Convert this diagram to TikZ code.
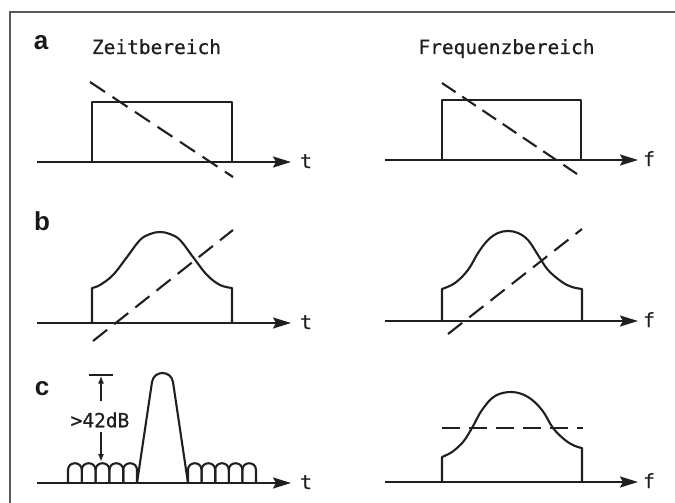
\documentclass[tikz,border=0pt]{standalone}
\usepackage{fontspec}
\setmainfont{Liberation Sans}
\newfontfamily\plotter{DejaVu Sans Mono}[FakeBold=0.7]
\usetikzlibrary{arrows.meta}
\begin{document}
\begin{tikzpicture}[x=1pt,y=-1pt,
  ln/.style={line width=2.1pt, line join=round, black!88},
  axisline/.style={line width=2.1pt, black!88, -{Stealth[length=18pt,width=11pt,inset=3pt]}},
  dsh/.style={line width=2.1pt, black!88, dash pattern=on 18pt off 9pt},
  mono/.style={font=\plotter\fontsize{19.5}{20}\selectfont, text=black!88, inner sep=0pt},
  lbl/.style={font=\bfseries\fontsize{26}{26}\selectfont, text=black!90, inner sep=0pt},
  smallarr/.style={line width=1.7pt, black!88, -{Latex[length=8pt,width=6pt]}},
  framel/.style={line width=2pt, black!65}]
\useasboundingbox (0,0) rectangle (675,503);
% frame
\coordinate (fbl) at (10,503); \coordinate (ftl) at (10,12.5); \coordinate (ftr) at (675,12.5);
\draw[framel] (fbl) -- (ftl) -- (ftr);
% headings
\node[lbl, anchor=base] (la) at (41,50) {a};
\node[lbl, anchor=base] (lb) at (42,230) {b};
\node[lbl, anchor=base] (lc) at (42,395) {c};
\node[mono, anchor=base] (zt) at (156.5,54) {Zeitbereich};
\node[mono, anchor=base] (fr) at (506.5,54) {Frequenzbereich};
% axes
\coordinate (a1s) at (37,162); \coordinate (a1e) at (291,162);
\coordinate (a2s) at (385,160); \coordinate (a2e) at (638,160);
\coordinate (b1s) at (37,323); \coordinate (b1e) at (291,323);
\coordinate (b2s) at (385,321); \coordinate (b2e) at (638,321);
\coordinate (c1s) at (37,483); \coordinate (c1e) at (291,483);
\coordinate (c2s) at (385,482); \coordinate (c2e) at (638,482);
\draw[axisline] (a1s) -- (a1e);
\draw[axisline] (a2s) -- (a2e);
\draw[axisline] (b1s) -- (b1e);
\draw[axisline] (b2s) -- (b2e);
\draw[axisline] (c1s) -- (c1e);
\draw[axisline] (c2s) -- (c2e);
\node[mono, anchor=base west] (ta) at (300,168) {t};
\node[mono, anchor=base west] (fa) at (643,166) {f};
\node[mono, anchor=base west] (tb) at (300,329) {t};
\node[mono, anchor=base west] (fb) at (643,327) {f};
\node[mono, anchor=base west] (tc) at (300,489) {t};
\node[mono, anchor=base west] (fc) at (643,488) {f};
% panel a
\draw[ln] (92,162) -- (92,102) -- (232,102) -- (232,162);
\draw[ln] (442,160) -- (442,100) -- (581,100) -- (581,160);
\coordinate (da1s) at (90,82); \coordinate (da1e) at (233,177);
\coordinate (da2s) at (442,83); \coordinate (da2e) at (577,174);
\draw[dsh] (da1s) -- (da1e);
\draw[dsh, dash pattern=on 16.4pt off 8pt] (da2s) -- (da2e);
% panel b
\draw[ln] (92,323) -- plot[smooth, tension=0.6] coordinates {(92,288) (100,285) (113,275) (127,257) (140,240) (150,234) (160,232) (170,234) (180,240) (193,257) (207,275) (220,285) (232,288)} -- (232,323);
\draw[ln] (442,321) -- plot[smooth, tension=0.6] coordinates {(442,289) (455,283) (468,270) (478,253) (488,240) (498,233) (508,231) (518,233) (528,240) (538,255) (548,270) (562,282) (572,287) (582,289)} -- (582,321);
\coordinate (db1s) at (93,341); \coordinate (db1e) at (233,230);
\coordinate (db2s) at (448,334); \coordinate (db2e) at (582,229);
\draw[dsh] (db1s) -- (db1e);
\draw[dsh] (db2s) -- (db2e);
% panel c left: sidelobes and main lobe
\foreach \x in {68,81.8,95.6,109.4,123.2} {
  \draw[ln] (\x,483) -- (\x,470) .. controls (\x,461) and (\x+13.8,461) .. (\x+13.8,470) -- (\x+13.8,483);
}
\foreach \x in {188,201.6,215.2,228.8,242.4} {
  \draw[ln] (\x,483) -- (\x,470) .. controls (\x,461) and (\x+13.6,461) .. (\x+13.6,470) -- (\x+13.6,483);
}
\draw[ln] (137,483) -- (152,382) .. controls (154,370) and (171,370) .. (173,382) -- (188,483);
% annotation
\coordinate (tbl) at (89,375); \coordinate (tbr) at (113,375);
\draw[line width=1.7pt, black!88] (tbl) -- (tbr);
\coordinate (aus) at (101,401); \coordinate (aue) at (101,375.5);
\coordinate (ads) at (101,432); \coordinate (ade) at (101,462);
\draw[smallarr] (aus) -- (aue);
\draw[smallarr] (ads) -- (ade);
\node[mono, anchor=center] (db) at (100,420) {>42dB};
% panel c right
\draw[ln] (442,482) -- plot[smooth, tension=0.6] coordinates {(442,457) (452,452) (463,442) (472,428) (482,410) (495,396) (512,392) (528,397) (542,410) (553,428) (565,440) (575,446) (582,448)} -- (582,482);
\coordinate (dc2s) at (442,428); \coordinate (dc2e) at (583,428);
\draw[dsh] (dc2s) -- (dc2e);
\end{tikzpicture}
\end{document}
